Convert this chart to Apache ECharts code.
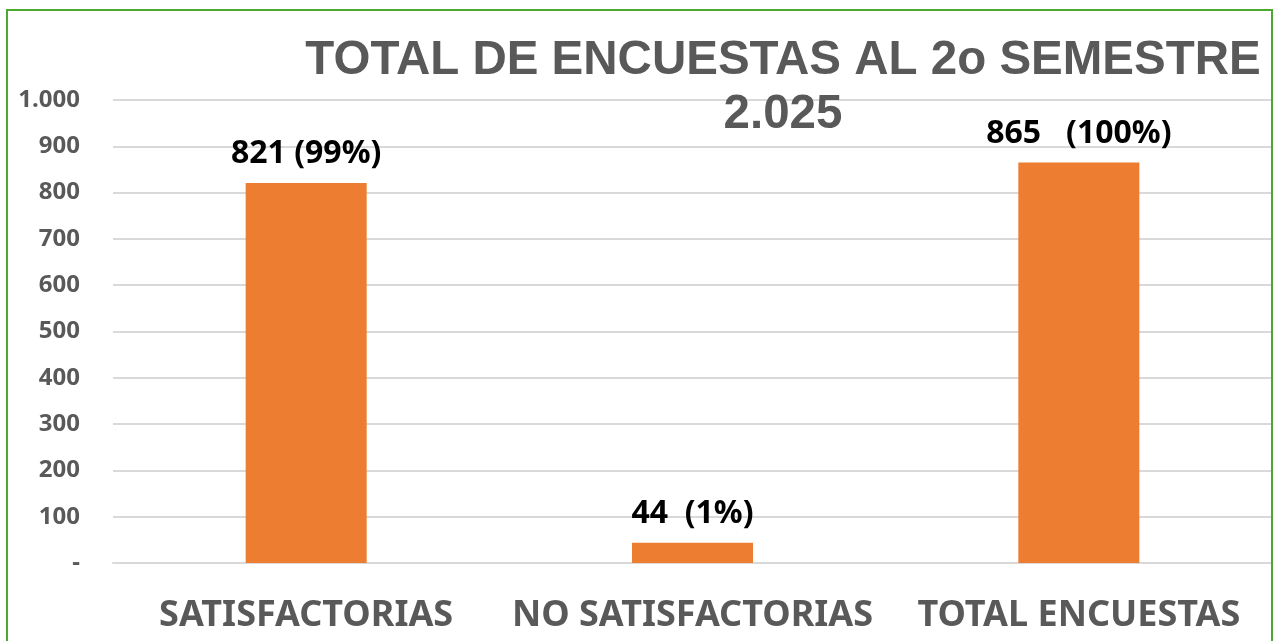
<!DOCTYPE html>
<html>
<head>
<meta charset="utf-8">
<script src="https://cdn.jsdelivr.net/npm/echarts@6/dist/echarts.min.js"></script>
<style>
  html, body { margin: 0; padding: 0; background: #ffffff; }
  #chart { width: 1282px; height: 641px; }
</style>
</head>
<body>
<div id="chart"></div>
<script>
// Survey totals for the second semester
const categories = ['SATISFACTORIAS', 'NO SATISFACTORIAS', 'TOTAL ENCUESTAS'];
const counts = [821, 44, 865];
const shares = ['99%', '1%', '100%'];
const labelGaps = [' ', '  ', '   '];
const yTicks = { min: 0, max: 1000, interval: 100 };

const GRAY = '#595959';
const FONT = '"Noto Sans", sans-serif';
const chart = echarts.init(document.getElementById('chart'), null, { renderer: 'canvas' });

chart.setOption({
  backgroundColor: '#ffffff',
  animation: false,
  graphic: [
    {
      type: 'rect',
      shape: { x: 7, y: 10, width: 1265, height: 660 },
      style: { fill: 'none', stroke: '#4ea72e', lineWidth: 2 },
      z: 100
    },
    {
      type: 'text',
      x: 783,
      y: 88,
      style: {
        text: 'TOTAL DE ENCUESTAS AL 2o SEMESTRE\n2.025',
        fill: GRAY,
        font: 'bold 47.5px "Liberation Sans", Arial, sans-serif',
        lineHeight: 54,
        align: 'center',
        verticalAlign: 'middle'
      },
      z: 50
    }
  ],
  grid: { left: 113, right: 10, top: 100, bottom: 78, containLabel: false },
  xAxis: {
    type: 'category',
    data: categories,
    axisTick: { show: false },
    axisLine: { show: true, lineStyle: { color: '#d9d9d9', width: 2 } },
    axisLabel: {
      color: GRAY,
      fontFamily: FONT,
      fontWeight: 'bold',
      fontSize: 36,
      margin: 35,
      interval: 0
    }
  },
  yAxis: {
    type: 'value',
    min: yTicks.min,
    max: yTicks.max,
    interval: yTicks.interval,
    axisLine: { show: false },
    axisTick: { show: false },
    splitLine: { lineStyle: { color: '#d9d9d9', width: 2 } },
    axisLabel: {
      color: GRAY,
      fontFamily: FONT,
      fontWeight: 'bold',
      fontSize: 24,
      margin: 33,
      formatter: function (v) {
        if (v === 0) return '-';
        return v >= 1000 ? Math.floor(v / 1000) + '.' + String(v % 1000).padStart(3, '0') : String(v);
      }
    }
  },
  series: [{
    type: 'bar',
    data: counts,
    barWidth: 121,
    itemStyle: { color: '#ed7d31' },
    label: {
      show: true,
      position: 'top',
      distance: 13,
      color: '#000000',
      fontFamily: FONT,
      fontWeight: 'bold',
      fontSize: 32,
      formatter: function (p) {
        return counts[p.dataIndex] + labelGaps[p.dataIndex] + '(' + shares[p.dataIndex] + ')';
      }
    }
  }]
});
</script>
</body>
</html>
